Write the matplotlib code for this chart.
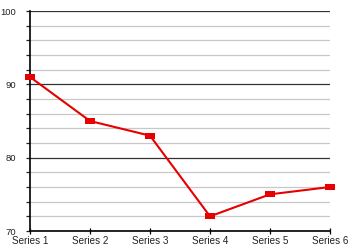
import numpy as np
import matplotlib
matplotlib.use('Agg')
import matplotlib.pyplot as plt
from matplotlib.ticker import MultipleLocator

# 数据
categories = ['Series 1', 'Series 2', 'Series 3', 'Series 4', 'Series 5', 'Series 6']
values = [91, 85, 83, 72, 75, 76]

plt.rcParams['font.family'] = ['Liberation Sans', 'DejaVu Sans']

fig = plt.figure(figsize=(3.5, 2.5), dpi=100)
ax = fig.add_axes([30 / 350, 19 / 250, 300 / 350, 220 / 250])

xs = np.arange(len(categories))
# 长方形的点标记
rect = [(-1, -0.6), (1, -0.6), (1, 0.6), (-1, 0.6), (-1, -0.6)]
ax.plot(xs, values, color='#e60000', linewidth=1.5, marker=rect,
        markersize=7.4, markeredgewidth=0, markerfacecolor='#e60000', zorder=3,
        clip_on=False)

ax.set_xlim(0, len(categories) - 1)
ax.set_ylim(70, 100)
ax.yaxis.set_major_locator(MultipleLocator(10))
ax.yaxis.set_minor_locator(MultipleLocator(2))
ax.grid(which='major', axis='y', color='#333333', linewidth=0.9)
ax.grid(which='minor', axis='y', color='#c8c8c8', linewidth=0.9)
ax.set_axisbelow(True)

ax.set_xticks(xs)
ax.set_xticklabels(categories, fontsize=7.1, color='#222222')
ax.tick_params(axis='x', direction='inout', length=5, width=0.9, pad=1)
ax.tick_params(axis='y', which='both', direction='out', length=3, width=0.9,
               color='#222222')
ax.tick_params(axis='y', which='major', pad=7, labelsize=6.8, labelcolor='#222222')

for s in ['top', 'right']:
    ax.spines[s].set_visible(False)
ax.spines['left'].set_linewidth(1.2)
ax.spines['bottom'].set_linewidth(1.2)

fig.savefig('out.png', dpi=100)
